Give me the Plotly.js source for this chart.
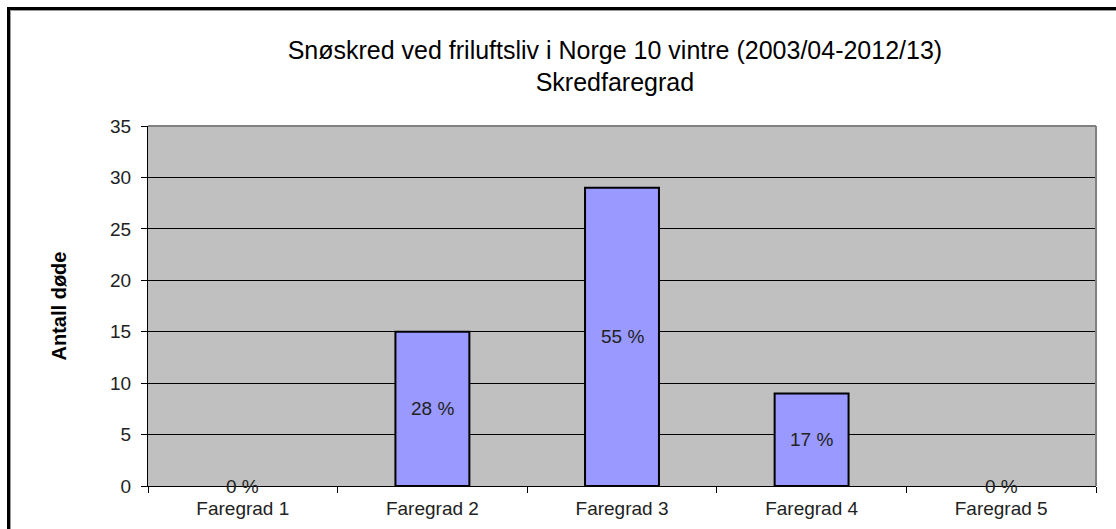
<!DOCTYPE html>
<html><head><meta charset="utf-8">
<script src="https://cdn.plot.ly/plotly-3.0.1.min.js"></script>
<style>
html,body{margin:0;padding:0;background:#fff;}
#frame{position:absolute;left:7px;top:7px;width:1200px;height:600px;border-left:3px solid #000;border-top:3px solid #000;box-shadow:1px 1px 0 #999 inset;}
#chart{position:absolute;left:0;top:0;width:1116px;height:529px;}
</style></head>
<body>
<div id="chart"></div>
<div id="frame"></div>
<script>
const categories = ['Faregrad 1','Faregrad 2','Faregrad 3','Faregrad 4','Faregrad 5'];
const deaths = [0, 15, 29, 9, 0];
const percentLabels = ['0 %','28 %','55 %','17 %','0 %'];
const yTicks = [0,5,10,15,20,25,30,35];

const font = 'Arial, "Liberation Sans", sans-serif';
const annotations = categories.map((c,i)=>({
  x: c, y: deaths[i]/2, xref:'x', yref:'y', text: percentLabels[i],
  showarrow:false, font:{family:font,size:19,color:'#222'}
}));

const trace = {
  type:'bar', x:categories, y:deaths,
  marker:{color:'#9999FF', line:{color:'#000', width:deaths.map(v=>v>0?2:0)}},
  width:0.39, hoverinfo:'none'
};

const layout = {
  width:1116, height:529,
  margin:{l:148, r:20, t:126, b:43, pad:0},
  paper_bgcolor:'rgba(0,0,0,0)', plot_bgcolor:'#C0C0C0',
  showlegend:false,
  title:{text:'Snøskred ved friluftsliv i Norge 10 vintre (2003/04-2012/13)<br>Skredfaregrad',
    font:{family:font,size:25,color:'#000'}, x:0.551, xanchor:'center', y:0.889, yanchor:'middle'},
  xaxis:{type:'category', tickson:'boundaries', ticks:'outside', ticklen:6, tickcolor:'#000',
    showline:true, linecolor:'#000', linewidth:1, mirror:false, showgrid:false,
    tickfont:{family:font,size:19,color:'#222'}, ticklabelstandoff:5, range:[-0.5,4.5], fixedrange:true},
  yaxis:{range:[0,35], tickvals:yTicks, ticks:'outside', ticklen:6, tickcolor:'#000',
    showline:true, linecolor:'#000', linewidth:1, showgrid:true, gridcolor:'#000', gridwidth:1,
    zeroline:false, tickfont:{family:font,size:19,color:'#222'}, ticklabelstandoff:6,
    title:{text:'<b>Antall døde</b>', font:{family:font,size:20,color:'#000'}, standoff:38}},
  shapes:[
    {type:'line', xref:'paper', yref:'paper', x0:0, x1:1, y0:1, y1:1, line:{color:'#808080',width:2}},
    {type:'line', xref:'paper', yref:'paper', x0:1, x1:1, y0:0, y1:1, line:{color:'#808080',width:2}}
  ],
  annotations: annotations
};
Plotly.newPlot('chart',[trace],layout,{displayModeBar:false,staticPlot:true});
</script>
</body></html>
